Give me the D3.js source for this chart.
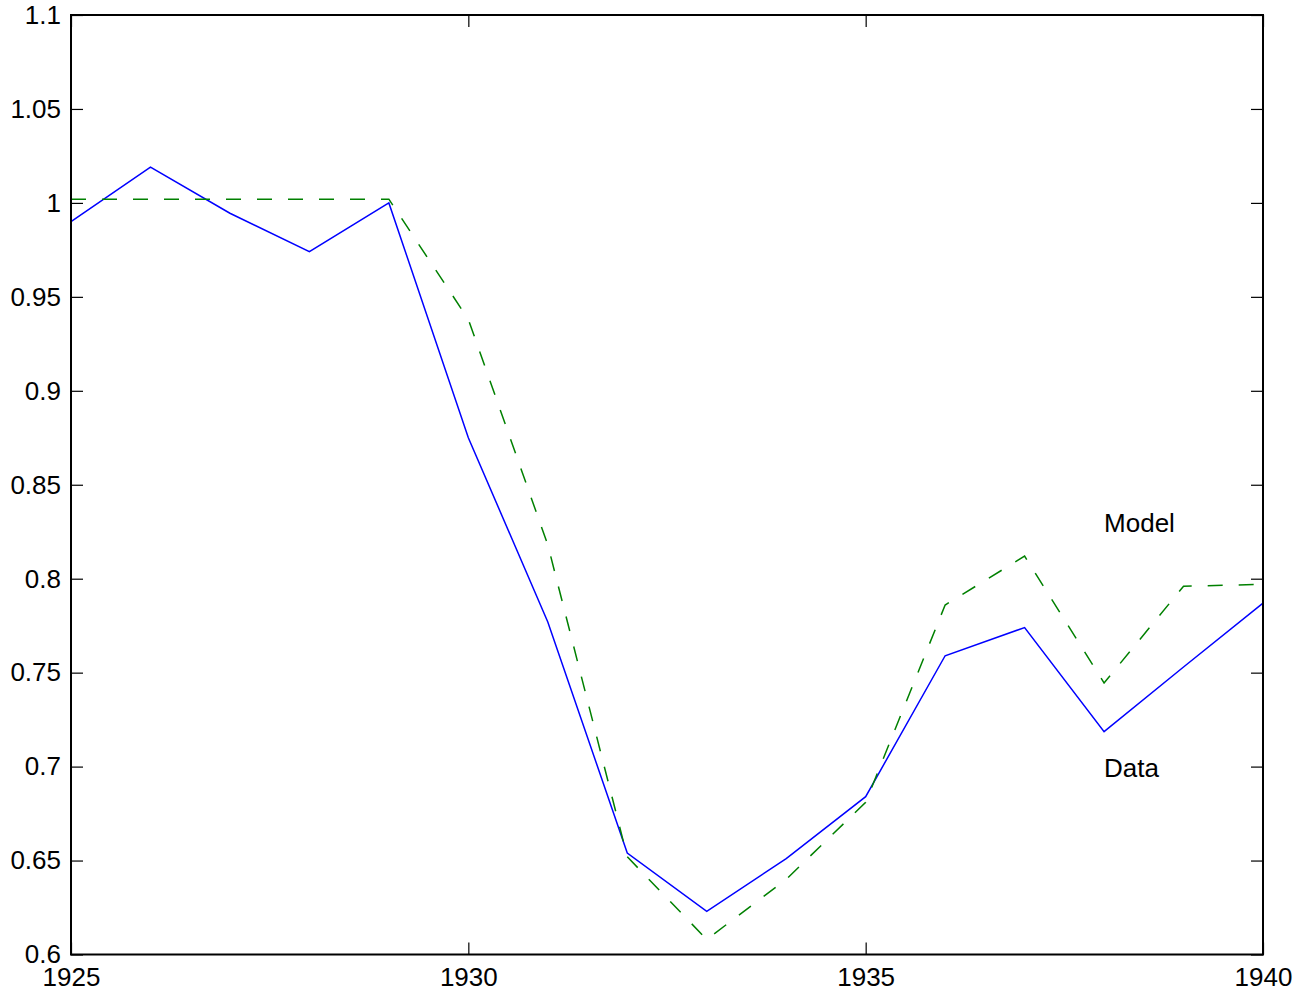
<!DOCTYPE html>
<html>
<head>
<meta charset="utf-8">
<script src="https://cdn.jsdelivr.net/npm/d3@7"></script>
<style>
  body { margin: 0; background: #fff; }
  text { font-family: "Liberation Sans", Arial, sans-serif; }
</style>
</head>
<body>
<svg id="chart" width="1310" height="997"></svg>
<script>
var years = [1925, 1926, 1927, 1928, 1929, 1930, 1931, 1932, 1933, 1934, 1935, 1936, 1937, 1938, 1939, 1940]
var dataValues = [0.990, 1.019, 0.9945, 0.974, 1.000, 0.875, 0.777, 0.654, 0.623, 0.651, 0.684, 0.759, 0.774, 0.7186, 0.753, 0.787]
var modelValues = [1.002, 1.002, 1.002, 1.002, 1.002, 0.938, 0.818, 0.652, 0.608, 0.640, 0.681, 0.786, 0.812, 0.7445, 0.796, 0.797]
var xTicks = [1925, 1930, 1935, 1940]
var yTicks = [0.6, 0.65, 0.7, 0.75, 0.8, 0.85, 0.9, 0.95, 1, 1.05, 1.1]

var svg = d3.select('#chart')
var margin = {top: 15, right: 47, bottom: 42.5, left: 71}
var w = +svg.attr('width') - margin.left - margin.right
var h = +svg.attr('height') - margin.top - margin.bottom
var g = svg.append('g').attr('transform', 'translate(' + margin.left + ',' + margin.top + ')')

var x = d3.scaleLinear().domain([1925, 1940]).range([0, w])
var y = d3.scaleLinear().domain([0.6, 1.1]).range([h, 0])

var tickLen = 12
var fontSize = 26
var fmt = function (d) { return String(+d.toFixed(2)) }

// ticks on all four sides, pointing inward
var axes = [
  {ax: d3.axisBottom(x).tickValues(xTicks).tickSizeInner(-tickLen).tickFormat(fmt), t: 'translate(0,' + h + ')'},
  {ax: d3.axisTop(x).tickValues(xTicks).tickSizeInner(-tickLen).tickFormat(''), t: 'translate(0,0)'},
  {ax: d3.axisLeft(y).tickValues(yTicks).tickSizeInner(-tickLen).tickFormat(fmt), t: 'translate(0,0)'},
  {ax: d3.axisRight(y).tickValues(yTicks).tickSizeInner(-tickLen).tickFormat(''), t: 'translate(' + w + ',0)'}
]
axes.forEach(function (a, i) {
  var ag = g.append('g').attr('transform', a.t).call(a.ax.tickSizeOuter(0))
  ag.select('.domain').remove()
  ag.selectAll('.tick line').attr('stroke', '#000').attr('stroke-width', 1.2)
  ag.selectAll('.tick text').attr('font-size', fontSize).attr('fill', '#000')
    .attr('font-family', '"Liberation Sans", Arial, sans-serif')
  if (i === 0) ag.selectAll('.tick text').attr('y', 13).attr('dy', '0.71em')
  if (i === 2) ag.selectAll('.tick text').attr('x', -10)
})

var line = d3.line()
  .x(function (d, i) { return x(years[i]) })
  .y(function (d) { return y(d) })

g.append('path')
  .datum(dataValues)
  .attr('fill', 'none')
  .attr('stroke', '#0000ff')
  .attr('stroke-width', 1.5)
  .attr('d', line)

g.append('path')
  .datum(modelValues)
  .attr('fill', 'none')
  .attr('stroke', '#008000')
  .attr('stroke-width', 1.5)
  .attr('stroke-dasharray', '15,16')
  .attr('d', line)

// frame
g.append('rect')
  .attr('width', w).attr('height', h)
  .attr('fill', 'none').attr('stroke', '#000').attr('stroke-width', 2)

g.append('text').attr('x', x(1938)).attr('y', y(0.825)).attr('font-size', fontSize).text('Model')
g.append('text').attr('x', x(1938)).attr('y', y(0.6945)).attr('font-size', fontSize).text('Data')
</script>
</body>
</html>
